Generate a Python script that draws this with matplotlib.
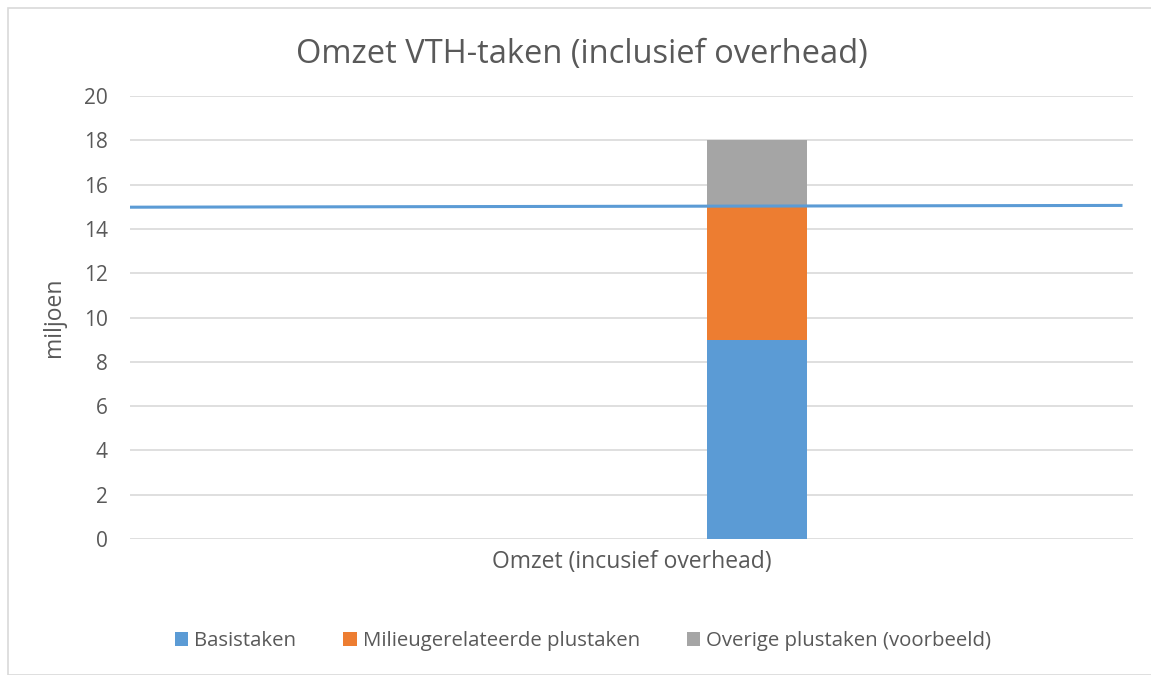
import matplotlib.pyplot as plt
from matplotlib.patches import Rectangle

plt.rcParams['font.family'] = ['Open Sans', 'DejaVu Sans']

categorie = 'Omzet (incusief overhead)'
reeksen = ['Basistaken', 'Milieugerelateerde plustaken', 'Overige plustaken (voorbeeld)']
waarden = [9, 6, 3]
kleuren = ['#5b9bd5', '#ed7d31', '#a5a5a5']
lijn_x = [-0.5, 0.488]
lijn_y = [14.98, 15.06]
yticks = list(range(0, 21, 2))

tekstkleur = '#595959'

fig = plt.figure(figsize=(11.51, 6.75), dpi=100)
fig.patches.append(Rectangle((8 / 1151, 0), 1.0, 1 - 8 / 675, transform=fig.transFigure,
                             fill=False, edgecolor='#d9d9d9', linewidth=1.2))
ax = fig.add_axes([130 / 1151, 1 - 539 / 675, 1003 / 1151, 443 / 675])

onder = 0
for naam, w, k in zip(reeksen, waarden, kleuren):
    ax.bar(0.125, w, width=0.1, bottom=onder, color=k, label=naam, zorder=2)
    onder += w

ax.plot(lijn_x, lijn_y, color='#5b9bd5', linewidth=2.2, zorder=3)

ax.set_xlim(-0.5, 0.5)
ax.set_ylim(0, 20)
ax.set_yticks(yticks)
ax.set_xticks([0])
ax.set_xticklabels([categorie])
ax.grid(axis='y', color='#d9d9d9', linewidth=1.2, zorder=0)
for s in ax.spines.values():
    s.set_visible(False)
ax.tick_params(axis='y', length=0, labelsize=15, colors=tekstkleur, pad=16)
ax.tick_params(axis='x', length=0, labelsize=16.5, colors=tekstkleur, pad=8)

fig.text(54 / 1151, 1 - 317 / 675, 'miljoen', rotation=90, ha='center', va='center',
         fontsize=16.5, color=tekstkleur)

fig.text(582 / 1151, 1 - 54 / 675, 'Omzet VTH-taken (inclusief overhead)', ha='center', va='center',
         fontsize=23.5, color=tekstkleur)

fig.legend(loc='center', bbox_to_anchor=(583 / 1151, 1 - 641 / 675), ncol=3, frameon=False,
           fontsize=14.7, labelcolor=tekstkleur, handlelength=0.65, handleheight=0.65,
           handletextpad=0.3, columnspacing=2.3)

fig.savefig('out.png', dpi=100)
